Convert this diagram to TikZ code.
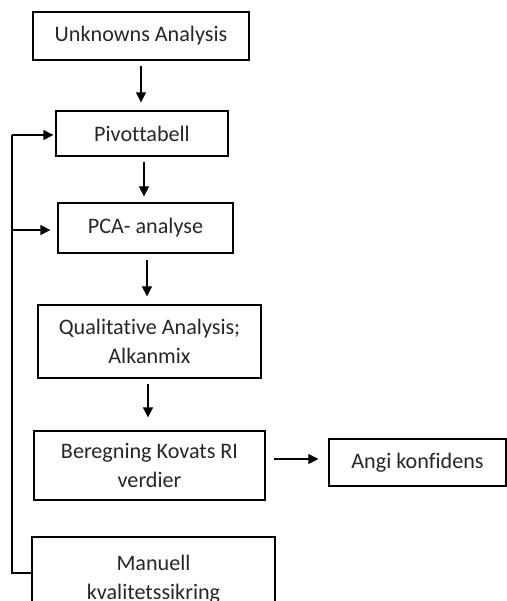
\documentclass[tikz,border=0pt]{standalone}
\usepackage{fontspec}
\setmainfont[Ligatures=NoCommon]{Carlito}
\usetikzlibrary{arrows.meta}
\begin{document}
\begin{tikzpicture}[x=0.75pt,y=-0.75pt,
  box/.style={draw=black, line width=1pt, inner sep=0pt, align=center,
    font=\fontsize{16.6}{21.5}\selectfont, text=black!85},
  conn/.style={line width=1pt},
  arr/.style={line width=1pt, -{Triangle[length=7.5pt,width=7.5pt]}}]
\useasboundingbox (0,0) rectangle (507,601);
\clip (0,0) rectangle (507,601);
\node[box, minimum width=216*0.75pt, minimum height=48*0.75pt] (b1) at (141,36) {Unknowns Analysis};
\node[box, minimum width=172*0.75pt, minimum height=45*0.75pt] (b2) at (142,133.5) {Pivottabell};
\node[box, minimum width=175*0.75pt, minimum height=50*0.75pt] (b3) at (145.5,228) {PCA- analyse};
\node[box, minimum width=223*0.75pt, minimum height=73*0.75pt] (b4) at (149.5,341.5) {Qualitative Analysis;\\Alkanmix};
\node[box, minimum width=231*0.75pt, minimum height=69*0.75pt] (b5) at (149.5,465.5) {Beregning Kovats RI\\verdier};
\node[box, minimum width=177*0.75pt, minimum height=47*0.75pt] (b6) at (417.5,462.5) {Angi konfidens};
\node[box, minimum width=243*0.75pt, minimum height=84*0.75pt] (b7) at (153.5,579) {Manuell\\kvalitetssikring};
% main flow
\draw[arr, shorten <=3.75pt, shorten >=6pt] (b1.south) -- (b1.south |- b2.north);
\draw[arr, shorten <=3.75pt, shorten >=4.5pt] ([xshift=1.5pt]b2.south) -- ([xshift=1.5pt]b2.south |- b3.north);
\draw[arr, shorten <=4.5pt, shorten >=6pt] ([xshift=1.125pt]b3.south) -- ([xshift=1.125pt]b3.south |- b4.north);
\draw[arr, shorten <=3.75pt, shorten >=9.75pt] ([xshift=-1.125pt]b4.south) -- ([xshift=-1.125pt]b4.south |- b5.north);
\coordinate (h5) at (265,459);
\draw[arr, shorten <=6.75pt, shorten >=7.5pt] (h5) -- (h5 -| b6.west);
% feedback loop
\coordinate (fbot) at (12,573);
\coordinate (ftop) at (12,135);
\coordinate (fmid) at (12,230);
\draw[conn] (b7.west |- fbot) -- (fbot) -- (ftop);
\draw[arr, shorten >=1.5pt] (ftop) -- (ftop -| b2.west);
\draw[arr, shorten >=5.25pt] (fmid) -- (fmid -| b3.west);
\end{tikzpicture}
\end{document}
